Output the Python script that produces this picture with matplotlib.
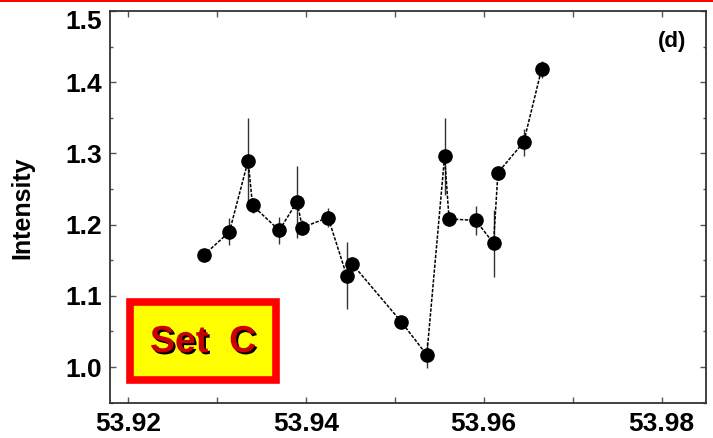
import matplotlib
matplotlib.use("Agg")
import matplotlib.pyplot as plt
import matplotlib.patheffects as pe
from matplotlib.patches import Rectangle
from matplotlib.ticker import MultipleLocator

# ---- data ----
x_vals = [53.9285, 53.9314, 53.9335, 53.9340, 53.9370, 53.9390, 53.9396,
          53.9425, 53.9446, 53.9452, 53.9507, 53.9536, 53.9556, 53.9561,
          53.9591, 53.9611, 53.9616, 53.9645, 53.9665]
y_vals = [1.157, 1.190, 1.290, 1.227, 1.192, 1.232, 1.196,
          1.210, 1.128, 1.145, 1.064, 1.017, 1.296, 1.208,
          1.206, 1.174, 1.273, 1.316, 1.418]
y_err = [0.008, 0.019, 0.060, 0.010, 0.019, 0.051, 0.010,
         0.013, 0.047, 0.010, 0.008, 0.018, 0.054, 0.010,
         0.020, 0.047, 0.010, 0.019, 0.012]
x_ticks = [53.92, 53.94, 53.96, 53.98]
x_ticklabels = ["53.92", "53.94", "53.96", "53.98"]
y_ticks = [1.0, 1.1, 1.2, 1.3, 1.4, 1.5]
y_ticklabels = ["1.0", "1.1", "1.2", "1.3", "1.4", ""]
top_label = "1.5"
panel_label = "(d)"
set_label = "Set  C"
y_title = "Intensity"

W, H = 713, 438
fig = plt.figure(figsize=(W / 100, H / 100), dpi=100)
ax = fig.add_axes([110.3 / W, 1 - 402.7 / H, (706 - 110.3) / W, (402.7 - 11) / H])

font = ["Liberation Sans", "DejaVu Sans"]

ax.errorbar(x_vals, y_vals, yerr=y_err, fmt="none", ecolor="#333333",
            elinewidth=1.0, capsize=0, zorder=2)
ax.plot(x_vals, y_vals, color="black", lw=1.1, ls=(0, (2.2, 1.0)), zorder=3)
ax.plot(x_vals, y_vals, ls="none", marker="o", ms=9.5, color="black", zorder=4)

ax.set_xlim(53.918, 53.985)
ax.set_ylim(0.95, 1.5)
ax.set_xticks(x_ticks)
ax.set_xticklabels(x_ticklabels, fontsize=19, fontweight="bold", family=font)
ax.set_yticks(y_ticks)
ax.set_yticklabels(y_ticklabels, fontsize=19, fontweight="bold", family=font)
ax.xaxis.set_minor_locator(MultipleLocator(0.01))
ax.yaxis.set_minor_locator(MultipleLocator(0.05))
ax.tick_params(which="both", direction="in", top=True, right=True,
               color="#555555", width=1.0)
ax.tick_params(axis="x", which="major", length=4.3, pad=7)
ax.tick_params(axis="x", which="minor", length=4.3)
ax.tick_params(axis="y", which="major", length=4.0, pad=6)
ax.tick_params(axis="y", which="minor", length=2.2)
for s in ax.spines.values():
    s.set_color("#333333")
    s.set_linewidth(1.3)

# shifted top label like the reference
ax.text(-8.6 / 595.7, (402.7 - 21.7) / 391.7, top_label, transform=ax.transAxes,
        ha="right", va="center", fontsize=19, fontweight="bold", family=font)

ax.set_ylabel(y_title, fontsize=18, fontweight="bold", family=font, va="center")
ax.yaxis.set_label_coords((22 - 110.3) / 595.7, (402.7 - 208) / 391.7)

ax.text((672 - 110.3) / 595.7, (402.7 - 42) / 391.7, panel_label,
        transform=ax.transAxes, ha="center", va="center", fontsize=16,
        fontweight="bold", family=font)

# Set C box
ax.add_patch(Rectangle(((129.8 - 110.3) / 595.7, (402.7 - 380) / 391.7),
                       146.2 / 595.7, 78.2 / 391.7, transform=ax.transAxes,
                       facecolor="#ffff00", edgecolor="#ff0000", lw=5.5,
                       zorder=5, clip_on=False))
ax.text((203 - 110.3) / 595.7, (402.7 - 342) / 391.7, set_label,
        transform=ax.transAxes, ha="center", va="center", fontsize=27,
        fontweight="bold", color="#cc0000",
        family=["Liberation Sans Narrow", "Liberation Sans", "DejaVu Sans"],
        zorder=6,
        path_effects=[pe.SimplePatchShadow(offset=(1.5, -1.5), shadow_rgbFace="black", alpha=1.0),
                      pe.Normal()])

# red line at the top
fig.add_artist(Rectangle((0, 1 - 2.2 / H), 1, 2.2 / H, transform=fig.transFigure,
                         facecolor="#ff0000", edgecolor="none"))

fig.savefig("out.png", dpi=100)
